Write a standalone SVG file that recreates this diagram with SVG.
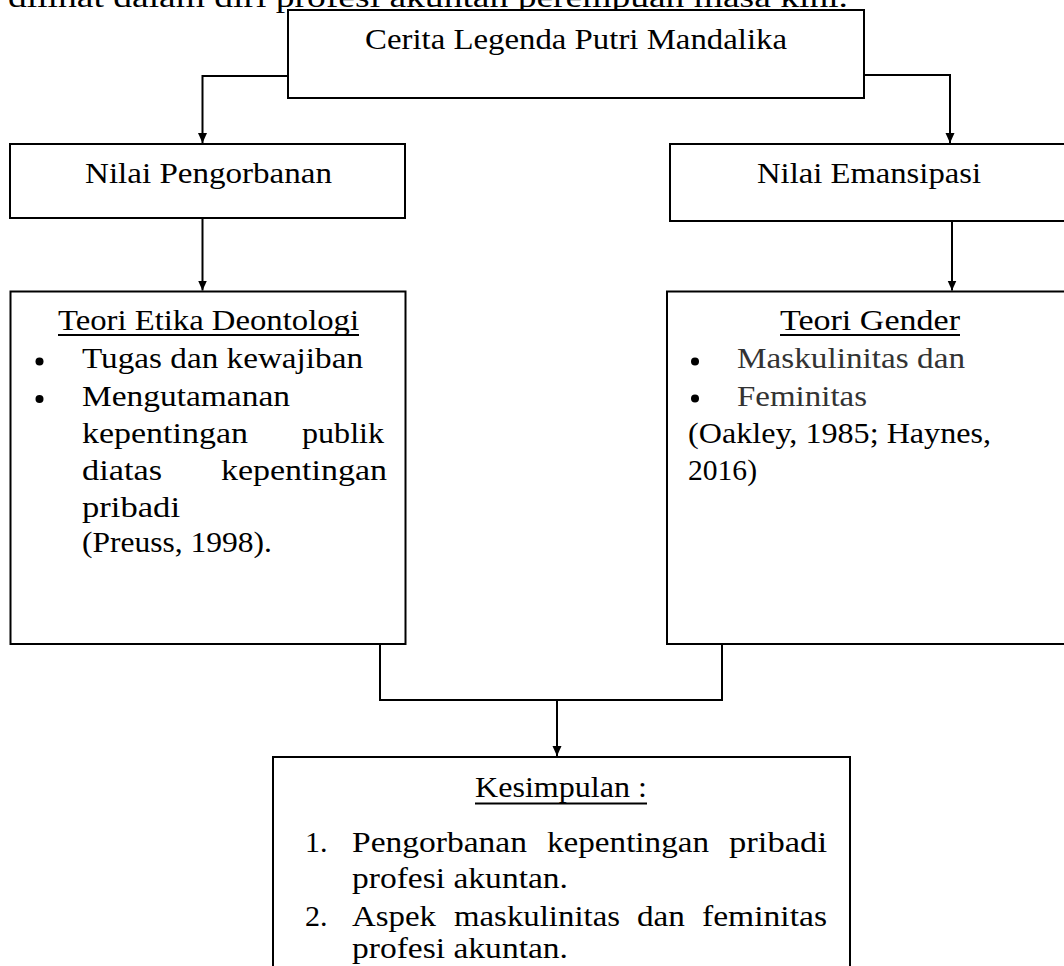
<svg xmlns="http://www.w3.org/2000/svg" width="1064" height="966" viewBox="0 0 1064 966">
<style>
.box{fill:#fff;stroke:#000;stroke-width:2}
.t{font-family:"Liberation Serif","Times New Roman",serif;font-size:30px;fill:#000}
.g{fill:#333}
.c{text-anchor:middle}
.conn{fill:none;stroke:#000;stroke-width:2}
.ul{stroke:#000;stroke-width:2}
</style>
<defs>
<marker id="arr" markerUnits="userSpaceOnUse" markerWidth="10" markerHeight="10" refX="10" refY="5" orient="auto">
<path d="M0,0.5 L10,5 L0,9.5 z" fill="#000"/>
</marker>
</defs>
<rect width="1064" height="966" fill="#fff"/>
<text class="t" x="8" y="7" textLength="840" lengthAdjust="spacingAndGlyphs">dilihat dalam diri profesi akuntan perempuan masa kini.</text>

<g id="connectors">
<path class="conn" d="M288,76 H202.5 V143" marker-end="url(#arr)"/>
<path class="conn" d="M864,75 H950 V143" marker-end="url(#arr)"/>
<path class="conn" d="M202.5,218 V290.5" marker-end="url(#arr)"/>
<path class="conn" d="M952,221 V290.5" marker-end="url(#arr)"/>
<path class="conn" d="M380,644 V700 H722 V644"/>
<path class="conn" d="M557,700 V756" marker-end="url(#arr)"/>
</g>

<g id="node-cerita">
<rect class="box" x="288" y="10" width="576" height="88"/>
<text class="t c" x="576" y="49" textLength="422" lengthAdjust="spacingAndGlyphs">Cerita Legenda Putri Mandalika</text>
</g>

<g id="node-pengorbanan">
<rect class="box" x="10" y="144" width="395" height="74"/>
<text class="t" x="85" y="183" textLength="247" lengthAdjust="spacingAndGlyphs">Nilai Pengorbanan</text>
</g>

<g id="node-emansipasi">
<rect class="box" x="670" y="144" width="420" height="77"/>
<text class="t" x="757" y="183" textLength="224" lengthAdjust="spacingAndGlyphs">Nilai Emansipasi</text>
</g>

<g id="node-deontologi">
<rect class="box" x="10.5" y="291.5" width="395" height="352.5"/>
<text class="t" x="58" y="330" textLength="301" lengthAdjust="spacingAndGlyphs">Teori Etika Deontologi</text>
<line class="ul" x1="58" y1="335" x2="359" y2="335"/>
<circle cx="39.5" cy="361.5" r="4"/>
<text class="t" x="82" y="368" textLength="281" lengthAdjust="spacingAndGlyphs">Tugas dan kewajiban</text>
<circle cx="39.5" cy="399" r="4"/>
<text class="t" x="82" y="406" textLength="208" lengthAdjust="spacingAndGlyphs">Mengutamanan</text>
<text class="t" x="82" y="443" textLength="166" lengthAdjust="spacingAndGlyphs">kepentingan</text>
<text class="t" x="302" y="443" textLength="82" lengthAdjust="spacingAndGlyphs">publik</text>
<text class="t" x="82" y="480" textLength="80" lengthAdjust="spacingAndGlyphs">diatas</text>
<text class="t" x="221" y="480" textLength="166" lengthAdjust="spacingAndGlyphs">kepentingan</text>
<text class="t" x="82" y="517" textLength="98" lengthAdjust="spacingAndGlyphs">pribadi</text>
<text class="t" x="82" y="552" textLength="190" lengthAdjust="spacingAndGlyphs">(Preuss, 1998).</text>
</g>

<g id="node-gender">
<rect class="box" x="667" y="291.5" width="420" height="352.5"/>
<text class="t" x="780" y="330" textLength="180" lengthAdjust="spacingAndGlyphs">Teori Gender</text>
<line class="ul" x1="780" y1="335" x2="960" y2="335"/>
<circle cx="695" cy="361.5" r="4"/>
<text class="t g" x="737" y="368" textLength="228" lengthAdjust="spacingAndGlyphs">Maskulinitas dan</text>
<circle cx="695" cy="398.5" r="4"/>
<text class="t g" x="737" y="406" textLength="130" lengthAdjust="spacingAndGlyphs">Feminitas</text>
<text class="t" x="688" y="443" textLength="303" lengthAdjust="spacingAndGlyphs">(Oakley, 1985; Haynes,</text>
<text class="t" x="688" y="480" textLength="69" lengthAdjust="spacingAndGlyphs">2016)</text>
</g>

<g id="node-kesimpulan">
<rect class="box" x="273" y="757" width="577" height="260"/>
<text class="t" x="475" y="797" textLength="172" lengthAdjust="spacingAndGlyphs">Kesimpulan :</text>
<line class="ul" x1="475" y1="803.5" x2="647" y2="803.5"/>
<text class="t" x="305" y="852">1.</text>
<text class="t" x="352" y="852" textLength="175" lengthAdjust="spacingAndGlyphs">Pengorbanan</text>
<text class="t" x="547" y="852" textLength="162" lengthAdjust="spacingAndGlyphs">kepentingan</text>
<text class="t" x="729" y="852" textLength="98" lengthAdjust="spacingAndGlyphs">pribadi</text>
<text class="t" x="352" y="888" textLength="216" lengthAdjust="spacingAndGlyphs">profesi akuntan.</text>
<text class="t" x="305" y="926">2.</text>
<text class="t" x="352" y="926" textLength="84" lengthAdjust="spacingAndGlyphs">Aspek</text>
<text class="t" x="454" y="926" textLength="166" lengthAdjust="spacingAndGlyphs">maskulinitas</text>
<text class="t" x="637" y="926" textLength="48" lengthAdjust="spacingAndGlyphs">dan</text>
<text class="t" x="702" y="926" textLength="125" lengthAdjust="spacingAndGlyphs">feminitas</text>
<text class="t" x="352" y="958" textLength="216" lengthAdjust="spacingAndGlyphs">profesi akuntan.</text>
</g>
</svg>
